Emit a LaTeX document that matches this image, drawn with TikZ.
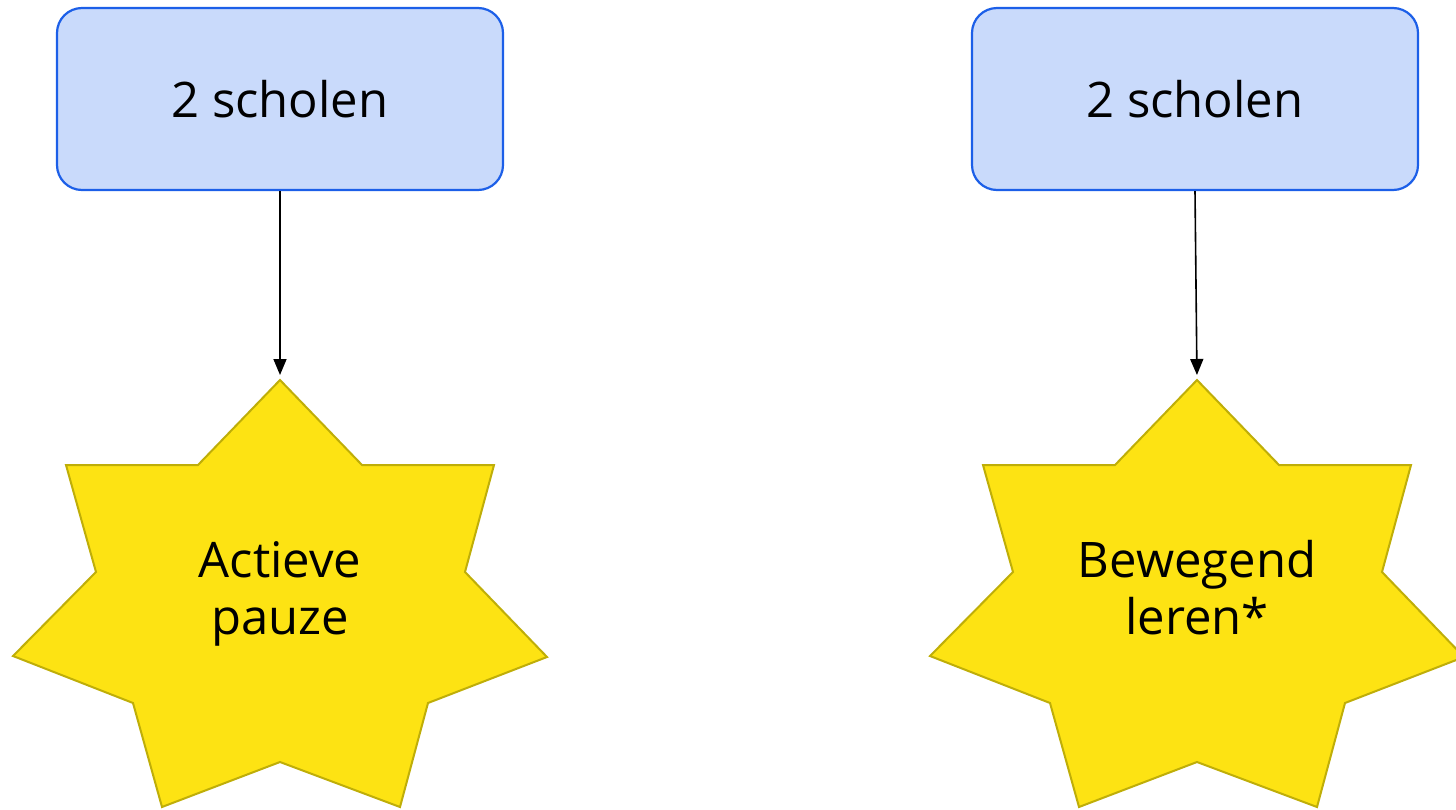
\documentclass[tikz,border=0pt]{standalone}
\usepackage{fontspec}
\setmainfont{Open Sans}
\usetikzlibrary{arrows.meta}
\definecolor{boxfill}{HTML}{C9DAFB}
\definecolor{boxline}{HTML}{1C5FE8}
\definecolor{starfill}{HTML}{FDE313}
\definecolor{starline}{HTML}{BFAE08}
\tikzset{
  schoolbox/.style={draw=boxline, fill=boxfill, line width=2.2pt, rounded corners=25pt,
    minimum width=446pt, minimum height=182pt, inner sep=0pt,
    font=\fontsize{49}{57}\selectfont},
  startext/.style={align=center, inner sep=0pt, font=\fontsize{49}{57}\selectfont},
  starshape/.style={fill=starfill, draw=starline, line width=2pt, line join=miter},
  conn/.style={line width=1.6pt, -{Triangle[length=16pt,width=13pt]}, shorten >=5pt},
}
\newcommand{\mystar}{%
  (0,-212) -- (82,-127) -- (214,-127) -- (185,-20) -- (267,65) -- (148,111) -- (120,215)
  -- (0,170) -- (-118,215) -- (-147,111) -- (-267,64) -- (-184,-20) -- (-214,-127) -- (-82,-127) -- cycle}
\begin{document}
\begin{tikzpicture}[x=1pt,y=-1pt]
\useasboundingbox (0,0) rectangle (1456,809);
% stars
\begin{scope}[shift={(280,592)}]
  \path[starshape] \mystar;
\end{scope}
\begin{scope}[shift={(1197,592)}]
  \path[starshape] \mystar;
\end{scope}
\coordinate (t1) at (280,380);
\coordinate (t2) at (1197,380);
\node[startext] (s1) at (280,591.5) {\rule{0pt}{40pt}Actieve\\pauze\rule[-12pt]{0pt}{12pt}};
\node[startext] (s2) at (1197,591.5) {\rule{0pt}{40pt}Bewegend\\leren*\rule[-12pt]{0pt}{12pt}};
% boxes
\node[schoolbox] (b1) at (280,99) {2 scholen};
\node[schoolbox] (b2) at (1195,99) {2 scholen};
% connectors
\draw[conn] (b1.south) -- (t1);
\draw[conn] (b2.south) -- (t2);
\end{tikzpicture}
\end{document}
